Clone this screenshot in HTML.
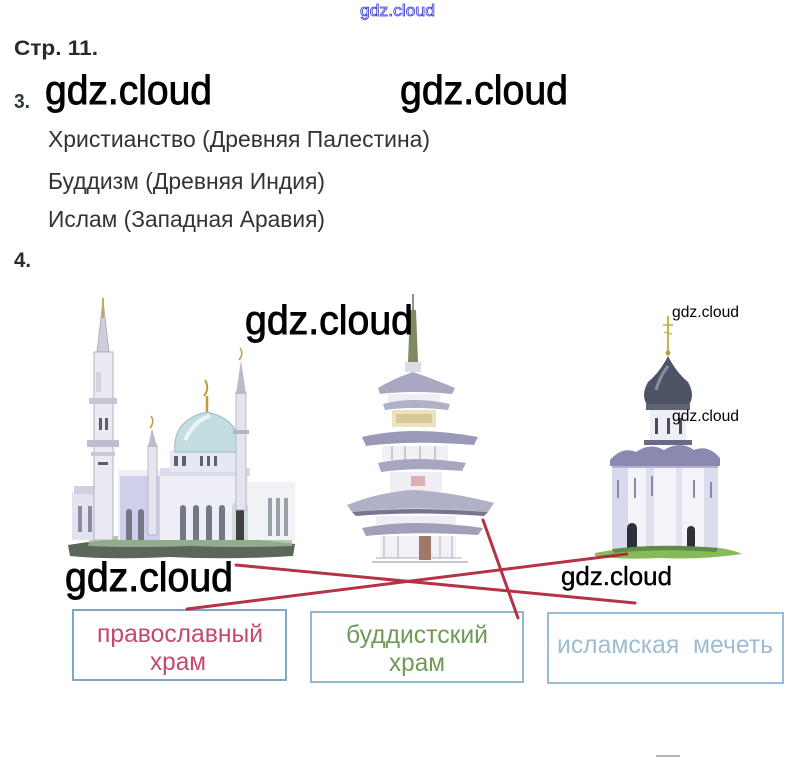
<!DOCTYPE html>
<html><head><meta charset="utf-8"><style>
html,body{margin:0;padding:0;background:#fff;}
body{width:795px;height:773px;overflow:hidden;position:relative;}
svg{position:absolute;left:0;top:0;}
text{font-family:"Liberation Sans","DejaVu Sans",sans-serif;}
</style></head><body>
<svg width="795" height="773" viewBox="0 0 795 773" xmlns="http://www.w3.org/2000/svg">
<rect width="795" height="773" fill="#fff"/>

<!-- header texts -->
<text x="360" y="16" font-size="17" fill="#fff" stroke="#3b3bd6" stroke-width="0.8" textLength="75" lengthAdjust="spacingAndGlyphs">gdz.cloud</text>
<text x="14" y="55" font-size="21" font-weight="bold" fill="#2a2a2a" textLength="84" lengthAdjust="spacingAndGlyphs">Стр. 11.</text>
<text x="14" y="108" font-size="20" font-weight="bold" fill="#2f3a3a" textLength="16" lengthAdjust="spacingAndGlyphs">3.</text>
<text x="45" y="104" font-size="41" fill="#000" stroke="#000" stroke-width="0.9" textLength="167" lengthAdjust="spacingAndGlyphs">gdz.cloud</text>
<text x="400" y="104" font-size="41" fill="#000" stroke="#000" stroke-width="0.9" textLength="168" lengthAdjust="spacingAndGlyphs">gdz.cloud</text>
<text x="48" y="147" font-size="23" fill="#333" textLength="382" lengthAdjust="spacingAndGlyphs">Христианство (Древняя Палестина)</text>
<text x="48" y="189" font-size="23" fill="#333" textLength="277" lengthAdjust="spacingAndGlyphs">Буддизм (Древняя Индия)</text>
<text x="48" y="227" font-size="23" fill="#333" textLength="277" lengthAdjust="spacingAndGlyphs">Ислам (Западная Аравия)</text>
<text x="14" y="267" font-size="21" font-weight="bold" fill="#2a2a2a" textLength="17" lengthAdjust="spacingAndGlyphs">4.</text>

<!-- ============ MOSQUE ============ -->
<g>
  <!-- ground -->
  <path d="M68 545 Q120 536 180 540 Q240 536 295 544 L293 556 Q230 560 170 557 Q110 560 70 556 Z" fill="#5d665c"/>
  <path d="M90 538 Q150 532 210 536 Q260 533 292 540 L292 546 Q240 548 190 546 Q130 548 88 546 Z" fill="#9fbf98" opacity="0.8"/>
  <!-- left wing -->
  <rect x="72" y="492" width="28" height="48" fill="#e2e2f1"/>
  <rect x="74" y="486" width="24" height="8" fill="#d0d0e2"/>
  <rect x="78" y="506" width="4" height="26" fill="#8a8aa0"/>
  <rect x="88" y="506" width="4" height="26" fill="#8a8aa0"/>
  <!-- main body -->
  <rect x="118" y="470" width="130" height="70" fill="#eeeef7"/>
  <rect x="120" y="476" width="40" height="64" fill="#cfcEEB"/>
  <rect x="160" y="468" width="90" height="8" fill="#dadae8"/>
  <!-- right part -->
  <rect x="248" y="482" width="47" height="58" fill="#f0f2f5"/>
  <rect x="268" y="498" width="4" height="38" fill="#9aa0a8"/>
  <rect x="276" y="498" width="4" height="38" fill="#9aa0a8"/>
  <rect x="284" y="498" width="4" height="38" fill="#9aa0a8"/>
  <!-- windows arched -->
  <g fill="#737786">
    <path d="M126 540 V512 a3 3 0 0 1 6 0 V540 Z"/>
    <path d="M138 540 V512 a3 3 0 0 1 6 0 V540 Z"/>
    <path d="M180 540 V508 a3 3 0 0 1 6 0 V540 Z"/>
    <path d="M193 540 V508 a3 3 0 0 1 6 0 V540 Z"/>
    <path d="M206 540 V508 a3 3 0 0 1 6 0 V540 Z"/>
    <path d="M219 540 V508 a3 3 0 0 1 6 0 V540 Z"/>
  </g>
  <!-- doorway -->
  <path d="M232 540 V508 a8 8 0 0 1 16 0 V540 Z" fill="#d0dcd8"/>
  <path d="M236 540 V510 a4 4 0 0 1 8 0 V540 Z" fill="#3c4040"/>
  <!-- dome drum -->
  <rect x="170" y="450" width="75" height="22" fill="#e6e8f2"/>
  <g fill="#5e6270"><rect x="174" y="456" width="4" height="10"/><rect x="182" y="456" width="4" height="10"/><rect x="200" y="456" width="3" height="10"/><rect x="207" y="456" width="3" height="10"/><rect x="214" y="456" width="3" height="10"/></g>
  <!-- dome -->
  <path d="M175 452 Q172 420 207 412 Q242 420 240 452 Z" fill="#c4dde0" stroke="#9cbac4" stroke-width="1"/>
  <path d="M185 440 Q195 420 210 416" stroke="#eaf5f5" stroke-width="4" fill="none"/>
  <line x1="207" y1="412" x2="207" y2="396" stroke="#c49a3a" stroke-width="2.5"/>
  <path d="M204 396 Q210 388 205 380" stroke="#c49a3a" stroke-width="2" fill="none"/>
  <!-- middle small minaret -->
  <rect x="148" y="445" width="9" height="90" fill="#e6e6f0" stroke="#acacc0" stroke-width="0.8"/>
  <polygon points="152,428 148,447 157,447" fill="#bcbccc"/>
  <path d="M150 428 Q155 422 151 416" stroke="#c49a3a" stroke-width="1.5" fill="none"/>
  <!-- right minaret -->
  <rect x="236" y="392" width="10" height="118" fill="#e4e4ee" stroke="#acacc0" stroke-width="0.8"/>
  <polygon points="241,360 236,394 246,394" fill="#babacb"/>
  <rect x="233" y="430" width="16" height="4" fill="#b4b4c6"/>
  <path d="M239 360 Q244 354 240 348" stroke="#c49a3a" stroke-width="1.5" fill="none"/>
  <!-- left tall minaret -->
  <polygon points="103,300 97,352 109,352" fill="#cdcddb" stroke="#a6a6b8" stroke-width="0.8"/>
  <line x1="103" y1="298" x2="103" y2="318" stroke="#c8a848" stroke-width="2"/>
  <rect x="94" y="352" width="19" height="188" fill="#eaeaf2" stroke="#aaaabf" stroke-width="0.9"/>
  <rect x="89" y="398" width="28" height="6" fill="#c6c6d6"/>
  <rect x="87" y="440" width="32" height="7" fill="#bebed0"/>
  <rect x="91" y="452" width="24" height="4" fill="#c8c8d8"/>
  <g fill="#5a5e6a"><rect x="99" y="418" width="3" height="12"/><rect x="105" y="418" width="3" height="12"/><rect x="98" y="462" width="10" height="3"/></g>
  <rect x="96" y="372" width="5" height="20" fill="#d3d3e2"/>
</g>

<!-- ============ PAGODA ============ -->
<g>
  <!-- spire -->
  <line x1="413" y1="294" x2="413" y2="310" stroke="#7a6a50" stroke-width="1.5"/>
  <path d="M410 310 L416 310 L418 362 L408 362 Z" fill="#7d8a62"/>
  <rect x="405" y="362" width="16" height="10" fill="#dcdce5"/>
  <!-- roof 1 -->
  <path d="M378 388 Q395 378 413 372 Q431 378 455 388 L452 394 Q413 390 380 394 Z" fill="#a8a8c2"/>
  <rect x="388" y="394" width="52" height="10" fill="#eeeef4"/>
  <!-- roof 2 -->
  <path d="M383 404 Q413 396 450 404 L448 410 Q413 406 385 410 Z" fill="#b0b0c6"/>
  <rect x="392" y="410" width="44" height="17" fill="#ece2bc"/>
  <rect x="396" y="414" width="36" height="9" fill="#cfbf88" opacity="0.7"/>
  <!-- roof 3 wide -->
  <path d="M362 437 Q413 425 478 437 L474 445 Q413 440 366 446 Z" fill="#9a9ab8"/>
  <rect x="382" y="446" width="66" height="14" fill="#f0f0f5"/>
  <g stroke="#a0a0b2" stroke-width="1"><line x1="392" y1="446" x2="392" y2="460"/><line x1="405" y1="446" x2="405" y2="460"/><line x1="420" y1="446" x2="420" y2="460"/><line x1="435" y1="446" x2="435" y2="460"/></g>
  <!-- roof 4 -->
  <path d="M378 463 Q413 455 466 463 L462 471 Q413 467 381 472 Z" fill="#a6a6c0"/>
  <rect x="390" y="472" width="52" height="20" fill="#eeeef4"/>
  <rect x="411" y="476" width="14" height="10" fill="#dcb0b4"/>
  <!-- roof 5 widest -->
  <path d="M347 505 Q380 492 413 490 Q452 492 494 503 L488 512 Q413 505 352 512 Z" fill="#b0b0c6"/>
  <path d="M352 512 Q413 506 488 512 L484 516 Q413 511 356 516 Z" fill="#767690"/>
  <rect x="376" y="516" width="80" height="8" fill="#eeeef4"/>
  <!-- roof 6 -->
  <path d="M362 528 Q413 518 483 528 L478 535 Q413 531 366 536 Z" fill="#a0a0ba"/>
  <!-- base -->
  <rect x="380" y="536" width="76" height="22" fill="#f2f2f6"/>
  <g stroke="#acacbc" stroke-width="1"><line x1="384" y1="536" x2="384" y2="558"/><line x1="398" y1="536" x2="398" y2="558"/><line x1="440" y1="536" x2="440" y2="558"/><line x1="452" y1="536" x2="452" y2="558"/><line x1="376" y1="558" x2="462" y2="558"/></g>
  <rect x="419" y="536" width="12" height="24" fill="#a07868"/>
  <line x1="372" y1="562" x2="468" y2="562" stroke="#c8c8d4" stroke-width="2"/>
</g>

<!-- ============ CHURCH ============ -->
<g>
  <!-- cross -->
  <line x1="668" y1="316" x2="668" y2="352" stroke="#c8b050" stroke-width="2"/>
  <line x1="663" y1="325" x2="673" y2="325" stroke="#c8b050" stroke-width="1.6"/>
  <line x1="664" y1="332" x2="672" y2="334" stroke="#c8b050" stroke-width="1.4"/>
  <circle cx="668" cy="353" r="2.5" fill="#b8a040"/>
  <!-- onion dome -->
  <path d="M668 356 Q676 372 688 382 Q696 396 688 406 L648 406 Q640 396 648 382 Q660 372 668 356 Z" fill="#4e5466"/>
  <path d="M656 390 Q660 376 668 366" stroke="#8890a4" stroke-width="3" fill="none"/>
  <rect x="646" y="404" width="44" height="6" fill="#5e6474"/>
  <!-- drum -->
  <rect x="650" y="410" width="36" height="32" fill="#eeeef6"/>
  <g fill="#4a4e5c"><rect x="655" y="418" width="3" height="16"/><rect x="667" y="418" width="3" height="16"/><rect x="679" y="418" width="3" height="16"/></g>
  <rect x="644" y="440" width="48" height="5" fill="#6a6a88"/>
  <!-- zakomary roof -->
  <path d="M610 460 Q622 446 636 452 Q650 442 664 450 Q680 440 694 450 Q708 444 720 458 L720 466 L610 466 Z" fill="#8a8ab0"/>
  <path d="M612 466 L718 466 L718 470 L612 470 Z" fill="#b4b4d0"/>
  <!-- body -->
  <rect x="612" y="468" width="106" height="82" fill="#f3f3f9"/>
  <rect x="612" y="468" width="16" height="82" fill="#d9d9ee"/>
  <rect x="646" y="468" width="8" height="82" fill="#dedef0"/>
  <rect x="676" y="468" width="6" height="82" fill="#e2e2f1"/>
  <rect x="704" y="468" width="14" height="82" fill="#dcdcef"/>
  <g fill="#8a8aa8"><rect x="617" y="480" width="2" height="18"/><rect x="634" y="478" width="2" height="20"/><rect x="651" y="476" width="2" height="20"/><rect x="693" y="480" width="2" height="18"/><rect x="710" y="482" width="2" height="16"/></g>
  <!-- doors -->
  <path d="M627 550 V528 a5 5 0 0 1 10 0 V550 Z" fill="#2e3038"/>
  <path d="M687 550 V530 a4 4 0 0 1 8 0 V550 Z" fill="#2e3038"/>
  <!-- grass -->
  <path d="M595 553 Q640 544 690 547 Q725 546 742 554 Q700 560 660 558 Q620 560 595 556 Z" fill="#86bb58"/>
  <path d="M612 549 Q660 543 718 548 L716 552 Q660 548 614 553 Z" fill="#5f8a48"/>
</g>

<!-- watermarks over images -->
<text x="245" y="334" font-size="41" fill="#000" stroke="#000" stroke-width="0.9" textLength="168" lengthAdjust="spacingAndGlyphs">gdz.cloud</text>
<text x="672" y="317" font-size="15.5" fill="#000" textLength="67" lengthAdjust="spacingAndGlyphs">gdz.cloud</text>
<text x="672" y="421" font-size="15.5" fill="#000" textLength="67" lengthAdjust="spacingAndGlyphs">gdz.cloud</text>

<!-- boxes -->
<rect x="73" y="610" width="213" height="70" fill="none" stroke="#7ea7c6" stroke-width="2"/>
<rect x="311" y="612" width="212" height="70" fill="none" stroke="#84b0cc" stroke-width="1.8"/>
<rect x="548" y="613" width="235" height="70" fill="none" stroke="#8cb6d2" stroke-width="1.8"/>

<text x="97" y="642" font-size="25" fill="#c24a6c" textLength="166" lengthAdjust="spacingAndGlyphs">православный</text>
<text x="150" y="670" font-size="25" fill="#c24a6c" textLength="56" lengthAdjust="spacingAndGlyphs">храм</text>
<text x="346" y="643" font-size="25" fill="#6f9a57" textLength="142" lengthAdjust="spacingAndGlyphs">буддистский</text>
<text x="389" y="671" font-size="25" fill="#6f9a57" textLength="56" lengthAdjust="spacingAndGlyphs">храм</text>
<text x="557" y="653" font-size="25" fill="#9fbcd2" textLength="216" lengthAdjust="spacingAndGlyphs" xml:space="preserve">исламская  мечеть</text>

<!-- red connecting lines -->
<g stroke="#b02238" stroke-width="3" stroke-linecap="round" opacity="0.92">
  <line x1="236" y1="565" x2="635" y2="603"/>
  <line x1="187" y1="609" x2="627" y2="554"/>
  <line x1="483" y1="520" x2="518" y2="618"/>
</g>

<!-- lower watermarks -->
<text x="65" y="591" font-size="41" fill="#000" stroke="#000" stroke-width="0.9" textLength="168" lengthAdjust="spacingAndGlyphs">gdz.cloud</text>
<text x="561" y="585" font-size="26" fill="#000" stroke="#000" stroke-width="0.4" textLength="111" lengthAdjust="spacingAndGlyphs">gdz.cloud</text>

<!-- small dash near bottom -->
<line x1="656" y1="756" x2="680" y2="756" stroke="#9a9aa0" stroke-width="1.5"/>
</svg>
</body></html>
